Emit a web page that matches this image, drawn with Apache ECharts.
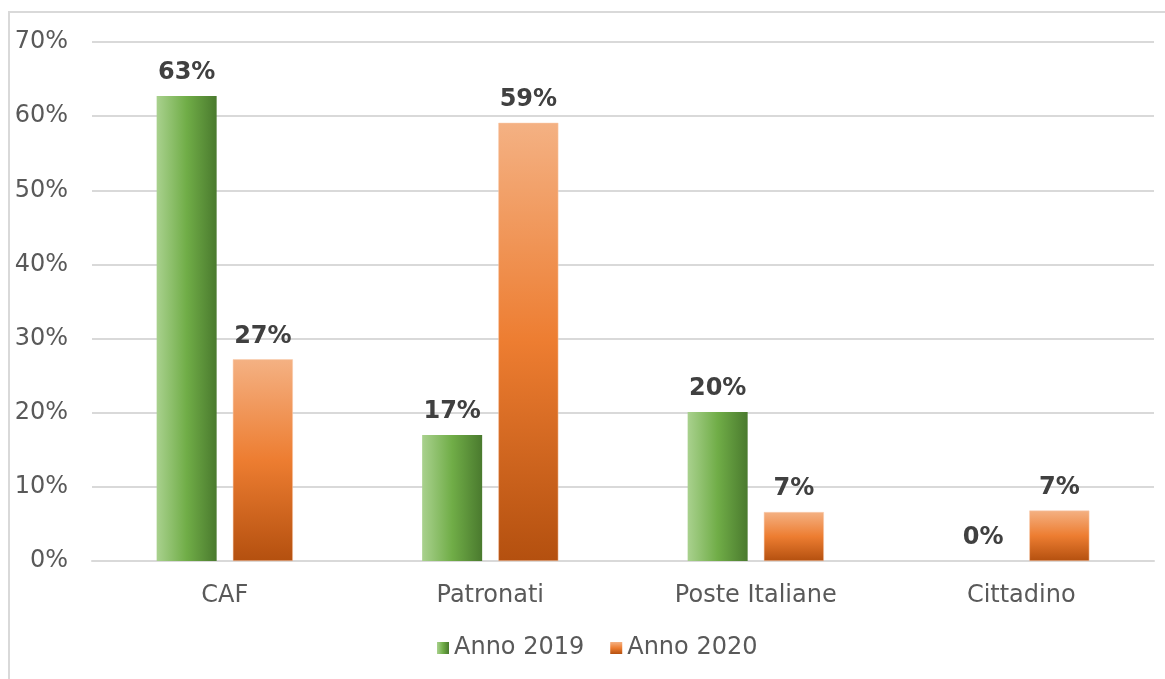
<!DOCTYPE html>
<html>
<head>
<meta charset="utf-8">
<script src="https://cdn.jsdelivr.net/npm/echarts@6/dist/echarts.min.js"></script>
<style>
  html, body { margin: 0; padding: 0; background: #fff; }
  #chart { width: 1165px; height: 679px; }
</style>
</head>
<body>
<div id="chart"></div>
<script>
// categorie e valori (in %)
var categories = ['CAF', 'Patronati', 'Poste Italiane', 'Cittadino'];
var anno2019 = [62.7, 17.0, 20.1, 0];
var anno2020 = [27.2, 59.1, 6.6, 6.8];
var seriesNames = ['Anno 2019', 'Anno 2020'];

var chart = echarts.init(document.getElementById('chart'));

var greenGrad = new echarts.graphic.LinearGradient(0, 0, 1, 0, [
    {offset: 0, color: '#a9d18e'},
    {offset: 0.5, color: '#70ad47'},
    {offset: 1, color: '#4a7a2e'}
]);
var orangeGrad = new echarts.graphic.LinearGradient(0, 0, 0, 1, [
    {offset: 0, color: '#f4b183'},
    {offset: 0.5, color: '#ed7d31'},
    {offset: 1, color: '#b4500f'}
]);

var labelStyle = {
    show: true,
    position: 'top',
    distance: 11,
    fontFamily: 'DejaVu Sans',
    fontWeight: 'bold',
    fontSize: 24,
    color: '#404040',
    formatter: function (p) { return Math.round(p.value) + '%'; }
};

var option = {
    backgroundColor: '#fff',
    animation: false,
    graphic: [{
        type: 'polyline',
        shape: {points: [[9, 679], [9, 12], [1165, 12]]},
        style: {stroke: '#d9d9d9', lineWidth: 2, fill: null}
    }],
    grid: {left: 92, right: 11, top: 42, bottom: 118},
    legend: {
        top: 631,
        left: 432,
        icon: 'rect',
        itemWidth: 12,
        itemHeight: 12,
        itemGap: 26,
        textStyle: {fontFamily: 'DejaVu Sans', fontSize: 24, color: '#595959'},
        data: [
            {name: seriesNames[0], itemStyle: {color: greenGrad}},
            {name: seriesNames[1], itemStyle: {color: orangeGrad, borderWidth: 0}}
        ]
    },
    xAxis: {
        type: 'category',
        data: categories,
        axisLine: {lineStyle: {color: '#d9d9d9', width: 2}},
        axisTick: {show: false},
        axisLabel: {fontFamily: 'DejaVu Sans', fontSize: 24, color: '#595959', margin: 23}
    },
    yAxis: {
        type: 'value',
        min: 0,
        max: 70,
        interval: 10,
        axisLine: {show: false},
        axisTick: {show: false},
        splitLine: {lineStyle: {color: '#d9d9d9', width: 2}},
        axisLabel: {
            fontFamily: 'DejaVu Sans', fontSize: 24, color: '#595959', margin: 24,
            formatter: '{value}%'
        }
    },
    series: [
        {
            name: seriesNames[0],
            type: 'bar',
            data: anno2019,
            barWidth: 60,
            barGap: '27%',
            itemStyle: {color: greenGrad},
            label: labelStyle
        },
        {
            name: seriesNames[1],
            type: 'bar',
            data: anno2020,
            barWidth: 60,
            itemStyle: {color: orangeGrad, borderColor: '#f8cbad', borderWidth: 0.5},
            label: labelStyle
        }
    ]
};

chart.setOption(option);
window.addEventListener('resize', function () {
    chart.resize();
});
</script>
</body>
</html>
